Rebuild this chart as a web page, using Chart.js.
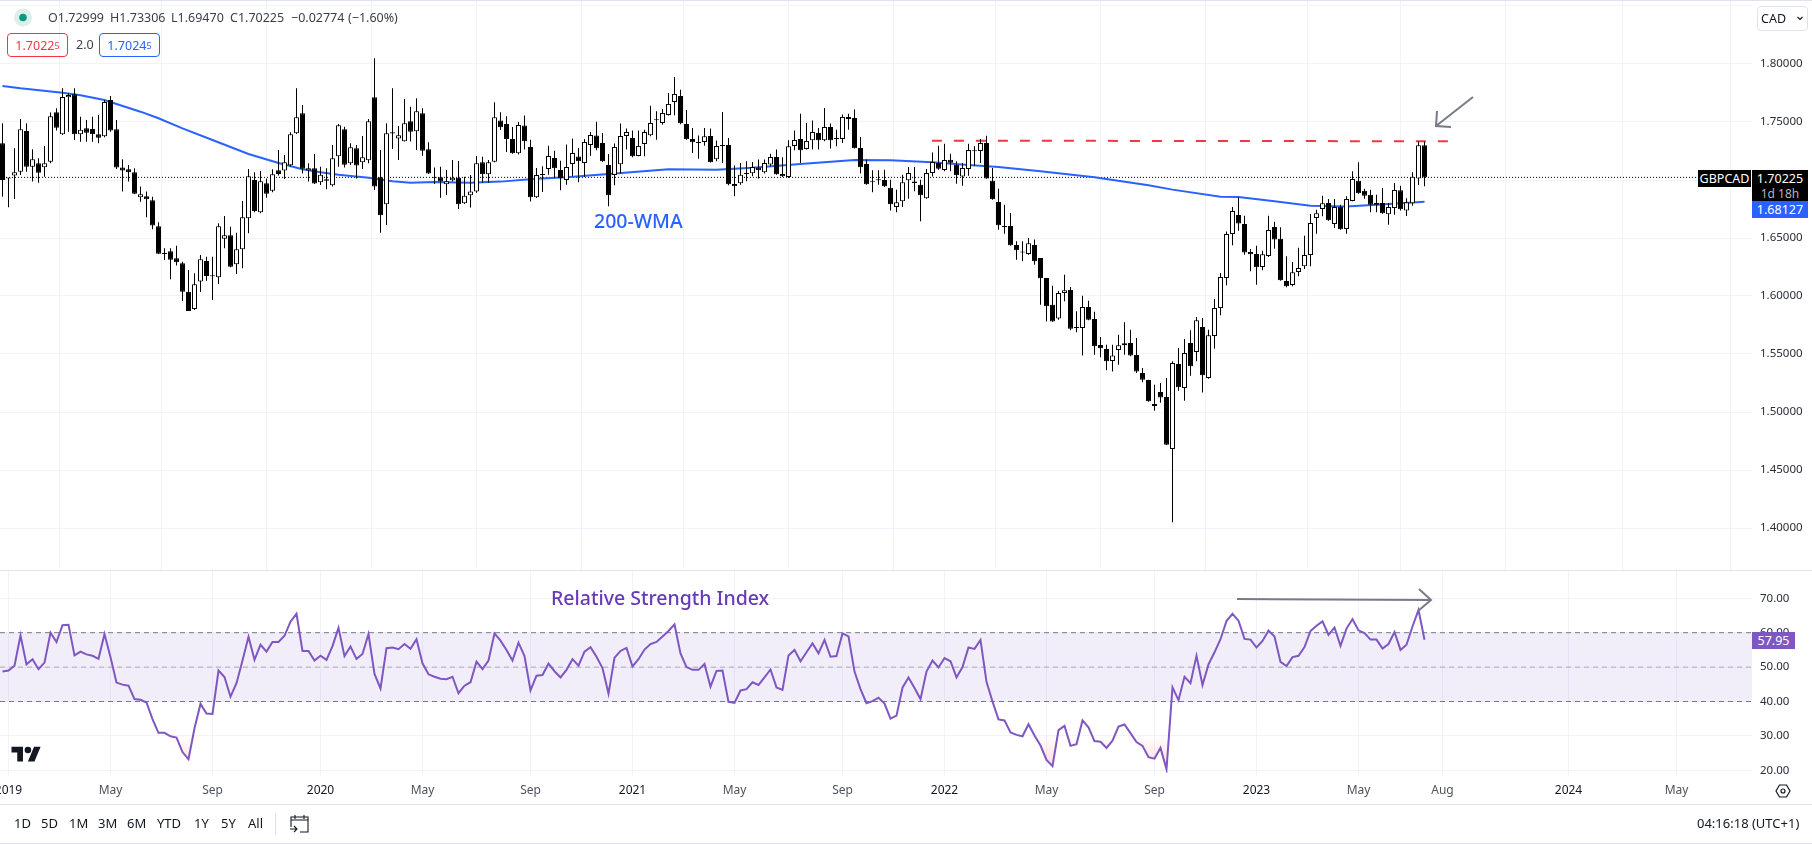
<!DOCTYPE html>
<html>
<head>
<meta charset="utf-8">
<title>GBPCAD</title>
<script src="https://cdn.jsdelivr.net/npm/chart.js@4"></script>
<style>
  html, body { margin: 0; padding: 0; background: #fff; overflow: hidden; }
  #page { position: relative; width: 1812px; height: 844px; font-family: 'Noto Sans', sans-serif; color: #131722; overflow: hidden; }
  canvas { position: absolute; left: 0; display: block; }
  .t { position: absolute; white-space: nowrap; line-height: 1; }
  .rule { position: absolute; left: 0; width: 1812px; height: 1px; background: #e0e3eb; }
  .tag { position: absolute; display: flex; align-items: center; justify-content: center; color: #fff; font-size: 12.5px; }
  .box { position: absolute; box-sizing: border-box; border: 1px solid; border-radius: 4px; height: 24px; display: flex; align-items: center; justify-content: center; font-size: 12.5px; }
  .box sup { font-size: 9px; line-height: 1; vertical-align: 3px; }
  .ohlc { top: 12px; font-size: 12.5px; color: #3c3f47; }
  svg { position: absolute; left: 0; top: 0; pointer-events: none; }
</style>
</head>
<body>
<div id="page">
  <canvas id="priceChart" width="1812" height="570" style="top:0"></canvas>
  <canvas id="rsiChart" width="1812" height="234" style="top:570px"></canvas>

  <div class="rule" style="top:0"></div>
  <div class="rule" style="top:570px"></div>
  <div class="rule" style="top:804px"></div>
  <div class="rule" style="top:843px"></div>

  <svg width="1812" height="844">
    <!-- legend dot -->
    <circle cx="23" cy="17.5" r="9" fill="#dcefea"/>
    <circle cx="23" cy="17.5" r="3.8" fill="#0b9981"/>
    <!-- hand drawn arrows -->
    <g fill="none" stroke="#787b86" stroke-width="2">
      <path d="M1473 97 L1436 126 M1437 111 L1436 126 L1451 127"/>
      <path d="M1237 599 L1431 600 M1419 589 L1431 600 L1418 611"/>
    </g>
    <!-- logo -->
    <g transform="translate(11.5,743.5) scale(.82)" fill="#131722">
      <path d="M14 22H7V11H0V4h14v18zM28 22h-8l7.5-18h8L28 22z"/>
      <circle cx="20" cy="8" r="4"/>
    </g>
    <!-- settings -->
    <g fill="none" stroke="#131722" stroke-width="1.2">
      <path d="M1779.5 785 h7 l3.5 6 -3.5 6 h-7 l-3.5 -6z"/>
      <circle cx="1783" cy="791" r="2"/>
    </g>
    <!-- go to date -->
    <g fill="none" stroke="#131722" stroke-width="1.1">
      <path d="M291 820 h17 M291 827 V817 h17 V832 h-8 M295 815 v4 M304 815 v4 M290 829 h7 M294 826 l3 3 -3 3"/>
    </g>
    <line x1="275.5" y1="813" x2="275.5" y2="835" stroke="#e0e3eb"/>
    <!-- currency chevron -->
    <path d="M1797.5 17 l2.5 2.5 2.5 -2.5" fill="none" stroke="#131722" stroke-width="1.2"/>
  </svg>

  <div class="t ohlc" style="left:48px">O1.72999</div>
  <div class="t ohlc" style="left:110px">H1.73306</div>
  <div class="t ohlc" style="left:171px">L1.69470</div>
  <div class="t ohlc" style="left:230px">C1.70225</div>
  <div class="t ohlc" style="left:291px">−0.02774</div>
  <div class="t ohlc" style="left:348px">(−1.60%)</div>
  <div class="box" style="left:7px;top:33px;width:61px;border-color:#f23645;color:#f23645">1.7022<sup>5</sup></div>
  <div class="t" style="left:76px;top:39px;font-size:12.5px;color:#3c3f47">2.0</div>
  <div class="box" style="left:99px;top:33px;width:61px;border-color:#2962ff;color:#2962ff">1.7024<sup>5</sup></div>

  <div class="box" style="left:1757px;top:6px;width:51px;height:25px;border-color:#e0e3eb;justify-content:flex-start;padding-left:3px;color:#131722">CAD</div>

  <div class="t" style="left:594px;top:211px;font-size:19.5px;font-weight:500;color:#2962ff">200-WMA</div>
  <div class="t" style="left:551px;top:588px;font-size:19.5px;font-weight:500;color:#673ab7">Relative Strength Index</div>

  <div class="tag" style="left:1698px;top:170px;width:53px;height:17px;background:#000">GBPCAD</div>
  <div class="tag" style="left:1752px;top:170px;width:56px;height:31px;background:#000;flex-direction:column;line-height:15px">
    <span>1.70225</span><span style="color:#b2b5be;font-size:12px">1d 18h</span>
  </div>
  <div class="tag" style="left:1752px;top:201px;width:56px;height:17px;background:#2962ff">1.68127</div>
  <div class="tag" style="left:1752px;top:632px;width:43px;height:17px;background:#7e57c2">57.95</div>

  <div class="t" style="left:14px;top:817px;font-size:13px">1D</div>
  <div class="t" style="left:41px;top:817px;font-size:13px">5D</div>
  <div class="t" style="left:69px;top:817px;font-size:13px">1M</div>
  <div class="t" style="left:98px;top:817px;font-size:13px">3M</div>
  <div class="t" style="left:127px;top:817px;font-size:13px">6M</div>
  <div class="t" style="left:157px;top:817px;font-size:13px">YTD</div>
  <div class="t" style="left:194px;top:817px;font-size:13px">1Y</div>
  <div class="t" style="left:221px;top:817px;font-size:13px">5Y</div>
  <div class="t" style="left:248px;top:817px;font-size:13px">All</div>
  <div class="t" style="left:1697px;top:817px;font-size:13px">04:16:18 (UTC+1)</div>
</div>

<script>
// Weekly GBPCAD candles, one entry per week.
const opens = [
  1.7316,1.7018,1.7038,1.7072,1.7423,1.7115,1.7144,1.7109,1.7158,1.7584,
  1.7394,1.7713,1.7739,1.7394,1.7446,1.7440,1.7394,1.7377,1.7690,1.7437,
  1.7107,1.7092,1.7066,1.6851,1.6859,1.6825,1.6601,1.6368,1.6385,1.6325,
  1.6282,1.6037,1.5888,1.6124,1.6302,1.6178,1.6161,1.6494,1.6523,1.6273,
  1.6403,1.6670,1.7000,1.6722,1.6971,1.6908,1.7084,1.7081,1.7127,1.7402,
  1.7575,1.7081,1.7101,1.6980,1.7006,1.6954,1.7204,1.7437,1.7144,1.7273,
  1.7153,1.7170,1.7713,1.7023,1.6790,1.7411,1.7357,1.7334,1.7506,1.7420,
  1.7575,1.7265,1.7020,1.7023,1.6963,1.6997,1.7020,1.6799,1.6868,1.6900,
  1.7153,1.7049,1.7158,1.7512,1.7483,1.7354,1.7230,1.7469,1.7285,1.6851,
  1.7052,1.7095,1.7190,1.7087,1.7000,1.7138,1.7202,1.7147,1.7302,1.7383,
  1.7319,1.7130,1.7044,1.7135,1.7380,1.7363,1.7207,1.7311,1.7385,1.7521,
  1.7492,1.7561,1.7673,1.7725,1.7483,1.7354,1.7325,1.7328,1.7380,1.7178,
  1.7299,1.7302,1.6966,1.6972,1.7058,1.7058,1.7107,1.7067,1.7133,1.7199,
  1.7052,1.7026,1.7294,1.7354,1.7268,1.7342,1.7406,1.7342,1.7457,1.7359,
  1.7354,1.7544,1.7535,1.7276,1.7138,1.6986,1.7003,1.7000,1.6934,1.6768,
  1.6816,1.6997,1.6988,1.6960,1.6842,1.7060,1.7149,1.7086,1.7175,1.7132,
  1.7031,1.7095,1.7253,1.7250,1.7319,1.6994,1.6810,1.6603,1.6603,1.6440,
  1.6382,1.6362,1.6440,1.6327,1.6155,1.5925,1.5807,1.6026,1.6052,1.5733,
  1.5724,1.5905,1.5802,1.5577,1.5543,1.5440,1.5534,1.5575,1.5595,1.5491,
  1.5336,1.5276,1.5052,1.5172,1.5129,1.4681,1.5414,1.5207,1.5595,1.5517,
  1.5733,1.5293,1.5655,1.5896,1.6155,1.6534,1.6698,1.6621,1.6379,1.6362,
  1.6250,1.6345,1.6595,1.6494,1.6129,1.6095,1.6207,1.6256,1.6353,1.6672,
  1.6750,1.6802,1.6621,1.6770,1.6577,1.6819,1.6994,1.6908,1.6873,1.6802,
  1.6802,1.6704,1.6758,1.6911,1.6736,1.6799,1.7014,1.72999
];
const highs = [
  1.7489,1.7018,1.7273,1.7526,1.7489,1.7265,1.7187,1.7293,1.7581,1.7618,
  1.7790,1.7747,1.7790,1.7546,1.7517,1.7546,1.7560,1.7690,1.7724,1.7517,
  1.7178,1.7129,1.7101,1.6943,1.6900,1.6856,1.6635,1.6411,1.6411,1.6434,
  1.6296,1.6224,1.6196,1.6354,1.6339,1.6339,1.6627,1.6690,1.6598,1.6546,
  1.6819,1.7095,1.7066,1.7078,1.7014,1.7092,1.7259,1.7216,1.7411,1.7790,
  1.7647,1.7144,1.7224,1.7115,1.7101,1.7302,1.7483,1.7460,1.7316,1.7302,
  1.7380,1.7526,1.8049,1.7259,1.7489,1.7790,1.7466,1.7699,1.7632,1.7704,
  1.7618,1.7325,1.7107,1.7115,1.7086,1.7173,1.7164,1.7029,1.7043,1.7207,
  1.7201,1.7173,1.7670,1.7584,1.7549,1.7457,1.7500,1.7555,1.7348,1.7104,
  1.7118,1.7296,1.7253,1.7167,1.7305,1.7357,1.7276,1.7354,1.7414,1.7503,
  1.7406,1.7225,1.7314,1.7486,1.7443,1.7426,1.7426,1.7434,1.7641,1.7592,
  1.7612,1.7750,1.7888,1.7779,1.7604,1.7449,1.7383,1.7449,1.7443,1.7340,
  1.7587,1.7363,1.7124,1.7147,1.7161,1.7156,1.7176,1.7176,1.7227,1.7262,
  1.7196,1.7342,1.7426,1.7572,1.7492,1.7512,1.7449,1.7621,1.7486,1.7434,
  1.7564,1.7572,1.7607,1.7371,1.7176,1.7084,1.7084,1.7089,1.7003,1.6917,
  1.7046,1.7112,1.7112,1.7003,1.7095,1.7238,1.7296,1.7313,1.7227,1.7161,
  1.7146,1.7313,1.7290,1.7353,1.7382,1.7103,1.6925,1.6787,1.6715,1.6471,
  1.6471,1.6500,1.6486,1.6327,1.6155,1.6089,1.6043,1.6184,1.6077,1.5868,
  1.6003,1.5960,1.5865,1.5646,1.5580,1.5580,1.5667,1.5773,1.5710,1.5638,
  1.5379,1.5279,1.5235,1.5250,1.5293,1.5437,1.5552,1.5629,1.5704,1.5819,
  1.5810,1.5710,1.5974,1.6198,1.6557,1.6767,1.6850,1.6692,1.6405,1.6434,
  1.6391,1.6692,1.6641,1.6592,1.6342,1.6293,1.6417,1.6520,1.6707,1.6744,
  1.6865,1.6836,1.6836,1.6787,1.6859,1.7075,1.7152,1.6925,1.6917,1.6873,
  1.6931,1.6802,1.6974,1.6951,1.6842,1.7066,1.7331,1.73306
];
const lows = [
  1.6856,1.6765,1.6837,1.7043,1.7072,1.6986,1.6977,1.7029,1.7144,1.7426,
  1.7388,1.7417,1.7345,1.7330,1.7330,1.7330,1.7316,1.7368,1.7417,1.7095,
  1.6900,1.6986,1.6879,1.6813,1.6678,1.6575,1.6362,1.6311,1.6144,1.6262,
  1.5957,1.5871,1.5880,1.6035,1.6132,1.5966,1.6104,1.6411,1.6247,1.6190,
  1.6239,1.6540,1.6722,1.6713,1.6848,1.6894,1.7038,1.7009,1.7115,1.7397,
  1.7057,1.6986,1.6966,1.6957,1.6920,1.6943,1.7115,1.7107,1.7129,1.7014,
  1.7095,1.7144,1.6914,1.6546,1.6612,1.7267,1.7172,1.7331,1.7331,1.7259,
  1.7210,1.7052,1.6966,1.6848,1.6871,1.6986,1.6750,1.6793,1.6764,1.6891,
  1.6977,1.6977,1.7153,1.7431,1.7242,1.7227,1.7219,1.7262,1.6814,1.6845,
  1.6897,1.7046,1.7018,1.6911,1.6960,1.7032,1.6980,1.7026,1.7210,1.7256,
  1.7156,1.6773,1.6954,1.7055,1.7262,1.7196,1.7204,1.7204,1.7377,1.7348,
  1.7477,1.7555,1.7558,1.7480,1.7348,1.7233,1.7184,1.7296,1.7150,1.7161,
  1.7147,1.6954,1.6860,1.6960,1.6989,1.7032,1.7012,1.7055,1.7118,1.7046,
  1.7026,1.7018,1.7256,1.7147,1.7262,1.7262,1.7262,1.7334,1.7271,1.7291,
  1.7319,1.7434,1.7271,1.7055,1.6960,1.6894,1.6960,1.6940,1.6736,1.6722,
  1.6767,1.6839,1.6902,1.6644,1.6839,1.7031,1.7089,1.7075,1.7075,1.6968,
  1.6951,1.7037,1.7123,1.7146,1.7011,1.6830,1.6572,1.6537,1.6434,1.6313,
  1.6299,1.6356,1.6270,1.5925,1.5781,1.5779,1.5796,1.5954,1.5704,1.5687,
  1.5488,1.5790,1.5494,1.5471,1.5359,1.5350,1.5408,1.5494,1.5480,1.5336,
  1.5256,1.5089,1.5011,1.5080,1.4715,1.4049,1.5184,1.5098,1.5313,1.5437,
  1.5169,1.5287,1.5546,1.5833,1.6092,1.6437,1.6563,1.6356,1.6213,1.6098,
  1.6221,1.6336,1.6408,1.6132,1.6075,1.6083,1.6170,1.6233,1.6256,1.6537,
  1.6687,1.6649,1.6586,1.6572,1.6537,1.6816,1.6882,1.6839,1.6721,1.6721,
  1.6710,1.6615,1.6701,1.6736,1.6690,1.6779,1.6957,1.69470
];
const closes = [
  1.7000,1.7012,1.7066,1.7437,1.7115,1.7178,1.7063,1.7144,1.7549,1.7451,
  1.7716,1.7733,1.7394,1.7434,1.7408,1.7394,1.7365,1.7673,1.7426,1.7107,
  1.7081,1.7066,1.6882,1.6877,1.6834,1.6607,1.6365,1.6362,1.6313,1.6291,
  1.6037,1.5871,1.6101,1.6316,1.6173,1.6170,1.6601,1.6523,1.6253,1.6403,
  1.6678,1.7032,1.6733,1.6989,1.6882,1.7049,1.7052,1.7153,1.7394,1.7540,
  1.7098,1.7101,1.6969,1.7046,1.6994,1.7187,1.7471,1.7132,1.7282,1.7124,
  1.7196,1.7506,1.6943,1.6696,1.7402,1.7400,1.7385,1.7489,1.7417,1.7592,
  1.7253,1.7055,1.7015,1.6986,1.6989,1.7020,1.6790,1.6865,1.6900,1.7144,
  1.7049,1.7153,1.7540,1.7454,1.7354,1.7230,1.7475,1.7334,1.6851,1.7044,
  1.7044,1.7207,1.7101,1.7015,1.7112,1.7233,1.7161,1.7328,1.7388,1.7273,
  1.7161,1.6868,1.7285,1.7380,1.7414,1.7204,1.7294,1.7414,1.7492,1.7515,
  1.7578,1.7656,1.7742,1.7489,1.7351,1.7325,1.7319,1.7377,1.7153,1.7294,
  1.7294,1.6963,1.6946,1.7046,1.7052,1.7112,1.7084,1.7147,1.7199,1.7049,
  1.7032,1.7291,1.7345,1.7256,1.7337,1.7414,1.7342,1.7457,1.7342,1.7354,
  1.7544,1.7526,1.7273,1.7110,1.6963,1.6980,1.6998,1.6946,1.6791,1.6808,
  1.6980,1.7060,1.6974,1.6868,1.7060,1.7155,1.7098,1.7172,1.7149,1.7040,
  1.7103,1.7258,1.7247,1.7319,1.7014,1.6833,1.6609,1.6595,1.6437,1.6394,
  1.6376,1.6454,1.6299,1.6152,1.5911,1.5781,1.6026,1.6049,1.5718,1.5724,
  1.5905,1.5796,1.5566,1.5549,1.5437,1.5488,1.5575,1.5592,1.5488,1.5350,
  1.5279,1.5092,1.5069,1.5126,1.4718,1.5422,1.5213,1.5508,1.5394,1.5790,
  1.5316,1.5661,1.5896,1.6164,1.6534,1.6733,1.6626,1.6376,1.6359,1.6247,
  1.6359,1.6569,1.6488,1.6135,1.6083,1.6204,1.6241,1.6353,1.6629,1.6713,
  1.6799,1.6652,1.6767,1.6575,1.6836,1.7009,1.6885,1.6865,1.6787,1.6787,
  1.6713,1.6767,1.6914,1.6747,1.6808,1.7029,1.7299,1.70225
];

// 200-week moving average, read at the weeks where the curve bends
const wmaWeeks = [0,3,10,13,17,19,23,26,30,35,41,46,50,53,56,61,65,68,72,78,83,89,94,101,111,119,125,133,142,148,155,161,166,173,182,191,195,203,206,212,218,224,231,237];
const wmaValues = [1.7810,1.7790,1.7753,1.7730,1.7690,1.7655,1.7589,1.7532,1.7445,1.7345,1.7224,1.7147,1.7092,1.7066,1.7046,1.7020,1.6989,1.6977,1.6983,1.6977,1.6986,1.7011,1.7023,1.7052,1.7092,1.7089,1.7106,1.7138,1.7172,1.7170,1.7152,1.7129,1.7112,1.7075,1.7023,1.6954,1.6917,1.6856,1.6853,1.6816,1.6779,1.6772,1.6793,1.68127];

const rsiValues = [
  48.7,49.0,50.4,59.2,50.8,52.3,49.4,51.3,60.0,57.3,
  62.2,62.3,53.4,54.5,53.7,53.3,52.4,59.6,52.9,45.5,
  44.9,44.6,40.7,40.5,39.7,34.9,30.9,30.9,29.9,29.5,
  25.3,23.2,32.2,39.3,36.5,36.4,49.0,47.1,41.4,45.3,
  51.9,58.8,52.1,56.5,54.5,57.3,57.3,59.1,63.2,65.5,
  54.7,54.7,51.9,53.3,52.1,56.1,61.4,53.2,56.0,52.4,
  53.8,59.6,48.0,43.8,55.5,55.7,55.2,56.7,55.3,58.1,
  51.1,47.9,47.2,46.6,46.5,47.2,42.4,44.6,45.6,51.6,
  49.4,51.9,59.8,57.7,55.0,51.9,57.1,53.2,43.2,47.5,
  47.7,51.0,48.8,47.0,49.2,52.3,50.4,54.5,55.8,53.0,
  49.7,42.3,52.7,54.7,55.6,50.2,52.3,55.1,56.7,57.3,
  58.9,60.5,62.4,54.0,50.0,49.2,49.2,50.9,44.3,48.9,
  49.0,39.9,39.6,43.2,43.6,45.6,44.8,47.0,49.3,44.1,
  43.4,53.4,55.0,51.7,54.3,56.9,54.0,57.9,53.0,53.2,
  59.8,58.9,48.7,43.6,39.5,40.1,41.1,39.4,35.0,35.9,
  44.0,47.0,43.9,40.7,48.7,51.9,49.9,52.6,51.7,47.0,
  50.0,55.7,55.3,57.9,45.7,40.0,34.8,34.5,31.0,30.3,
  29.9,33.4,30.1,27.2,23.0,21.2,31.7,32.9,27.1,27.6,
  34.5,32.5,28.5,28.3,26.5,28.6,32.7,33.3,30.8,28.2,
  27.1,23.8,23.4,26.5,20.3,44.1,40.4,47.2,45.3,53.3,
  44.8,50.8,54.3,58.1,63.4,65.5,63.5,58.2,58.0,55.7,
  57.6,60.6,58.9,51.5,50.3,52.9,53.3,55.8,60.5,62.0,
  63.3,59.4,61.5,56.2,61.2,63.9,60.7,59.9,58.0,58.0,
  55.4,56.7,60.2,55.0,56.5,61.8,66.6,57.95
];

const priceTicks = [1.40, 1.45, 1.50, 1.55, 1.60, 1.65, 1.70, 1.75, 1.80, 1.85];
const rsiTicks = [20, 30, 40, 50, 60, 70];
const timeTicks = [1, 18, 35, 53, 70, 88, 105, 122, 140, 157, 174, 192, 209, 226, 240, 261, 279];
const timeLabels = ['2019', 'May', 'Sep', '2020', 'May', 'Sep', '2021', 'May', 'Sep', '2022', 'May', 'Sep', '2023', 'May', 'Aug', '2024', 'May'];

const lastPrice = 1.70225;
const resistance = [{ x: 154.9, y: 1.7339 }, { x: 240.9, y: 1.7334 }];
const rsiUpper = 60, rsiMiddle = 50, rsiLower = 40;

const xMin = -2.5 / 6, xMax = 1749.5 / 6;   // 6px per week, plot area is 1752 wide
const font = "'Noto Sans', sans-serif";
const gridColor = '#f0f3fa';

Chart.defaults.font.family = font;

const baseOpts = {
  responsive: false,
  animation: false,
  events: [],
  layout: { padding: 0, autoPadding: false },
  plugins: { legend: { display: false }, tooltip: { enabled: false } },
};

// tick labels must not push the plot area in, the panes run edge to edge
function noPadding(scale) {
  scale.paddingTop = scale.paddingBottom = scale.paddingLeft = scale.paddingRight = 0;
}

function xAxis(extra) {
  return {
    type: 'linear', min: xMin, max: xMax, offset: false,
    border: { display: false },
    afterBuildTicks: (scale) => { scale.ticks = timeTicks.map((value) => ({ value })); },
    afterFit: noPadding,
    ...extra,
  };
}

function flat(y) {
  return [{ x: xMin, y }, { x: xMax, y }];
}

// Candles: wicks and bodies are two floating bar datasets on the same weeks
new Chart(document.getElementById('priceChart'), {
  data: {
    datasets: [
      {
        type: 'bar', grouped: false, order: 1, barPercentage: 5 / 6, categoryPercentage: 1,
        data: opens.map((o, i) => ({ x: i, y: [o, closes[i]] })),
        backgroundColor: opens.map((o, i) => (closes[i] >= o ? '#ffffff' : '#000000')),
        borderColor: '#000000', borderWidth: 1, borderSkipped: false, minBarLength: 1,
      },
      {
        type: 'bar', grouped: false, order: 2, barPercentage: 1 / 6, categoryPercentage: 1,
        data: highs.map((h, i) => ({ x: i, y: [lows[i], h] })),
        backgroundColor: '#000000',
      },
      {
        type: 'line', order: 3, label: '200-WMA',
        data: wmaWeeks.map((x, i) => ({ x, y: wmaValues[i] })),
        borderColor: '#2962ff', borderWidth: 2, pointRadius: 0, tension: 0,
      },
      {
        type: 'line', order: 4, data: resistance,
        borderColor: '#f23645', borderWidth: 2, borderDash: [10, 12], pointRadius: 0,
      },
      {
        type: 'line', order: 5, data: flat(lastPrice),
        borderColor: '#000000', borderWidth: 1, borderDash: [1, 2], pointRadius: 0,
      },
    ],
  },
  options: {
    ...baseOpts,
    scales: {
      x: xAxis({ grid: { color: gridColor, drawTicks: false }, ticks: { display: false } }),
      y: {
        position: 'right', min: 1.80 - 506 / 1160, max: 1.80 + 64 / 1160,
        border: { display: false },
        grid: { color: gridColor, drawTicks: false },
        afterBuildTicks: (scale) => { scale.ticks = priceTicks.map((value) => ({ value })); },
        afterFit: (scale) => { scale.width = 60; noPadding(scale); },
        ticks: {
          color: '#2a2e39', padding: 8, font: { size: 11.5 }, autoSkip: false,
          callback: (v) => (v > 1.82 ? '' : v.toFixed(5)),
        },
      },
    },
  },
});

// RSI pane
const rsiCanvas = document.getElementById('rsiChart');
const oversold = rsiCanvas.getContext('2d').createLinearGradient(0, 166, 0, 200);
oversold.addColorStop(0, 'rgba(255,82,82,0)');
oversold.addColorStop(1, 'rgba(255,82,82,.22)');

new Chart(rsiCanvas, {
  data: {
    datasets: [
      {
        type: 'line', data: rsiValues.map((y, x) => ({ x, y })), order: 1,
        borderColor: '#7e57c2', borderWidth: 2, pointRadius: 0, tension: 0,
        fill: { target: { value: 30 }, above: 'rgba(0,0,0,0)', below: oversold },
      },
      {
        type: 'line', data: flat(rsiUpper), order: 2, pointRadius: 0,
        borderColor: '#787b86', borderWidth: 1, borderDash: [5, 4],
        fill: '+1', backgroundColor: 'rgba(126,87,194,.1)',
      },
      {
        type: 'line', data: flat(rsiLower), order: 2, pointRadius: 0,
        borderColor: '#787b86', borderWidth: 1, borderDash: [5, 4],
      },
      {
        type: 'line', data: flat(rsiMiddle), order: 2, pointRadius: 0,
        borderColor: 'rgba(120,123,134,.55)', borderWidth: 1, borderDash: [5, 4],
      },
    ],
  },
  options: {
    ...baseOpts,
    scales: {
      x: xAxis({
        grid: { color: gridColor, tickLength: 3, tickColor: gridColor },
        afterFit: (scale) => { scale.height = 31; noPadding(scale); },
        ticks: {
          autoSkip: false, maxRotation: 0, padding: 7,
          color: (ctx) => (timeLabels[ctx.index].startsWith('20') ? '#131722' : '#50535e'),
          font: { size: 12 },
          callback: (v, i) => timeLabels[i],
        },
      }),
      y: {
        position: 'right', min: 20 - 2.7 / 3.44, max: 70 + 28.3 / 3.44,
        border: { display: false },
        grid: { color: gridColor, drawTicks: false },
        afterBuildTicks: (scale) => { scale.ticks = rsiTicks.map((value) => ({ value })); },
        afterFit: (scale) => { scale.width = 60; noPadding(scale); },
        ticks: { color: '#2a2e39', padding: 8, font: { size: 11.5 }, autoSkip: false, callback: (v) => v.toFixed(2) },
      },
    },
  },
});
</script>
</body>
</html>
